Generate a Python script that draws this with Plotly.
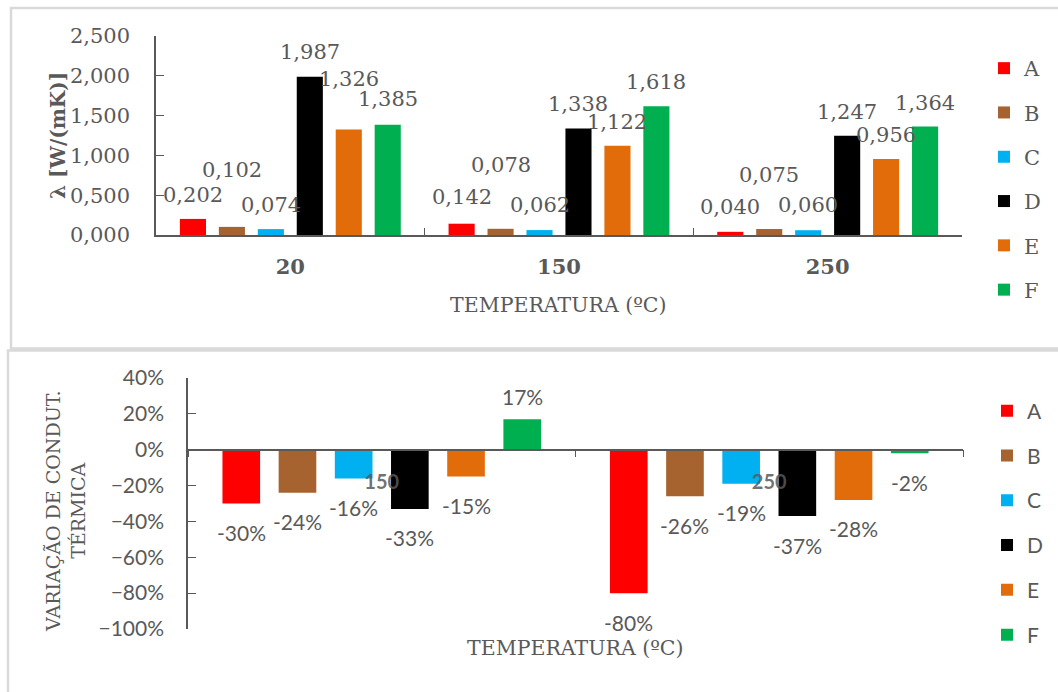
import plotly.graph_objects as go

# ---- data -------------------------------------------------------------
series = ["A", "B", "C", "D", "E", "F"]
colors = ["#FF0000", "#A6632F", "#00B0F0", "#000000", "#E36C0A", "#00B050"]

temps_top = ["20", "150", "250"]
lam_20 = [0.202, 0.102, 0.074, 1.987, 1.326, 1.385]
lam_150 = [0.142, 0.078, 0.062, 1.338, 1.122, 1.618]
lam_250 = [0.040, 0.075, 0.060, 1.247, 0.956, 1.364]

temps_bottom = ["150", "250"]
var_150 = [-0.30, -0.24, -0.16, -0.33, -0.15, 0.17]
var_250 = [-0.80, -0.26, -0.19, -0.37, -0.28, -0.02]

y_ticks_top = [0, 0.5, 1.0, 1.5, 2.0, 2.5]
y_ticks_bottom = [-1.0, -0.8, -0.6, -0.4, -0.2, 0.0, 0.2, 0.4]

# ---- styling ----------------------------------------------------------
W, H = 1058, 692
GREY = "#595959"
AXIS = "#595959"
SERIF = "DejaVu Serif"
SANS = "Lato"
BARGAP = 0.13
GROUPGAP = 0.33

# extra lift (px) of each value label above its bar, per temperature group
top_label_lift = [
    [24, 57, 24, 25, 50, 26],
    [27, 64, 25, 25, 24, 24],
    [25, 54, 25, 24, 24, 23],
]


def fx(px):
    return px / W


def fy(py):
    return 1 - py / H


def bar_center(group, k, n=len(series)):
    slot = (1 - BARGAP) / n
    return group - (1 - BARGAP) / 2 + (k + 0.5) * slot


fig = go.Figure()

top_by_group = [lam_20, lam_150, lam_250]
bottom_by_group = [var_150, var_250]

for k, name in enumerate(series):
    fig.add_trace(go.Bar(
        x=temps_top, y=[g[k] for g in top_by_group], name=name,
        marker=dict(color=colors[k], line=dict(width=0)),
        xaxis="x", yaxis="y", legend="legend", legendgroup="top" + name,
        hoverinfo="skip",
    ))
for k, name in enumerate(series):
    fig.add_trace(go.Bar(
        x=temps_bottom, y=[g[k] for g in bottom_by_group], name=name,
        marker=dict(color=colors[k], line=dict(width=0)),
        xaxis="x2", yaxis="y2", legend="legend2", legendgroup="bot" + name,
        hoverinfo="skip",
    ))

annotations = []
# value labels, top chart
for gi, vals in enumerate(top_by_group):
    for k, v in enumerate(vals):
        annotations.append(dict(
            x=bar_center(gi, k), y=v, xref="x", yref="y",
            text=f"{v:.3f}".replace(".", ","), showarrow=False,
            xanchor="center", yanchor="middle", yshift=top_label_lift[gi][k],
            font=dict(family=SERIF, size=21, color=GREY),
        ))
# value labels, bottom chart
for gi, vals in enumerate(bottom_by_group):
    for k, v in enumerate(vals):
        annotations.append(dict(
            x=bar_center(gi, k), y=v, xref="x2", yref="y2",
            text=f"{round(v * 100):d}%", showarrow=False,
            xanchor="center", yanchor="middle", yshift=23 if v > 0 else -29,
            font=dict(family=SANS, size=21, color=GREY),
        ))

# axis titles
annotations += [
    dict(x=fx(58), y=fy(136), xref="paper", yref="paper", textangle=-90,
         xanchor="center", yanchor="middle",
         text="<b>λ [W/(mK)]</b>", showarrow=False,
         font=dict(family=SERIF, size=20, color=GREY)),
    dict(x=fx(558), y=fy(305), xref="paper", yref="paper",
         xanchor="center", yanchor="middle",
         text="TEMPERATURA (ºC)", showarrow=False,
         font=dict(family=SERIF, size=20.5, color=GREY)),
    dict(x=fx(65), y=fy(511), xref="paper", yref="paper", textangle=-90,
         xanchor="center", yanchor="middle",
         text="VARIAÇÃO DE CONDUT.<br>TÉRMICA", showarrow=False,
         font=dict(family=SERIF, size=19, color=GREY)),
    dict(x=fx(575), y=fy(648), xref="paper", yref="paper",
         xanchor="center", yanchor="middle",
         text="TEMPERATURA (ºC)", showarrow=False,
         font=dict(family=SERIF, size=20.5, color=GREY)),
]

# chart frames
shapes = [
    dict(type="rect", xref="paper", yref="paper",
         x0=fx(11), x1=fx(1064), y0=fy(8), y1=fy(348.5),
         line=dict(color="#D9D9D9", width=2.5), layer="below"),
    dict(type="rect", xref="paper", yref="paper",
         x0=fx(8), x1=fx(1064), y0=fy(350.5), y1=fy(700),
         line=dict(color="#D9D9D9", width=2.5), layer="below"),
]

y2_lo, y2_hi = -1.0, 0.4
y2_dom = [fy(629), fy(378)]
zero_pos = y2_dom[0] + (0 - y2_lo) / (y2_hi - y2_lo) * (y2_dom[1] - y2_dom[0])

fig.update_layout(
    width=W, height=H,
    margin=dict(l=0, r=0, t=0, b=0, autoexpand=False),
    paper_bgcolor="white", plot_bgcolor="white",
    separators=",.",
    barmode="group", bargap=BARGAP, bargroupgap=GROUPGAP,
    annotations=annotations, shapes=shapes,
    xaxis=dict(
        domain=[fx(156), fx(962)], anchor="y", type="category",
        showline=True, linecolor=AXIS, linewidth=1.5,
        ticks="inside", ticklen=7, tickcolor=AXIS, tickson="boundaries",
        tickfont=dict(family=SERIF, size=21, color=GREY),
        ticklabelstandoff=12, automargin=False,
        tickprefix="<b>", ticksuffix="</b>",
        showgrid=False, fixedrange=True,
    ),
    yaxis=dict(
        domain=[fy(235), fy(36)], anchor="x", range=[0, 2.5],
        tickvals=y_ticks_top, tickformat=".3f",
        showline=True, linecolor=AXIS, linewidth=1.5,
        ticks="inside", ticklen=8, tickcolor=AXIS,
        tickfont=dict(family=SERIF, size=21, color=GREY),
        ticklabelstandoff=20, automargin=False,
        showgrid=False, zeroline=False, fixedrange=True,
    ),
    xaxis2=dict(
        domain=[fx(188), fx(963)], anchor="free", position=zero_pos,
        type="category",
        showline=True, linecolor=AXIS, linewidth=1.5,
        ticks="outside", ticklen=7, tickcolor=AXIS, tickson="boundaries",
        tickfont=dict(family=SANS, size=20, color="rgba(89,89,89,0.85)"),
        ticklabelstandoff=15, automargin=False,
        tickprefix="<b>", ticksuffix="</b>",
        showgrid=False, fixedrange=True,
    ),
    yaxis2=dict(
        domain=y2_dom, anchor="x2", range=[y2_lo, y2_hi],
        tickvals=y_ticks_bottom, tickformat=".0%",
        showline=True, linecolor=AXIS, linewidth=1.5,
        ticks="inside", ticklen=8, tickcolor=AXIS,
        tickfont=dict(family=SANS, size=21, color=GREY),
        ticklabelstandoff=18, automargin=False,
        showgrid=False, zeroline=False, fixedrange=True,
    ),
    legend=dict(
        x=fx(984), xanchor="left", y=fy(48), yanchor="top",
        font=dict(family=SERIF, size=21, color=GREY),
        tracegroupgap=14, bgcolor="rgba(0,0,0,0)",
    ),
    legend2=dict(
        x=fx(987), xanchor="left", y=fy(390.5), yanchor="top",
        font=dict(family=SANS, size=21, color=GREY),
        tracegroupgap=14.5, bgcolor="rgba(0,0,0,0)",
    ),
    showlegend=True,
)

fig.write_html("out.html")
